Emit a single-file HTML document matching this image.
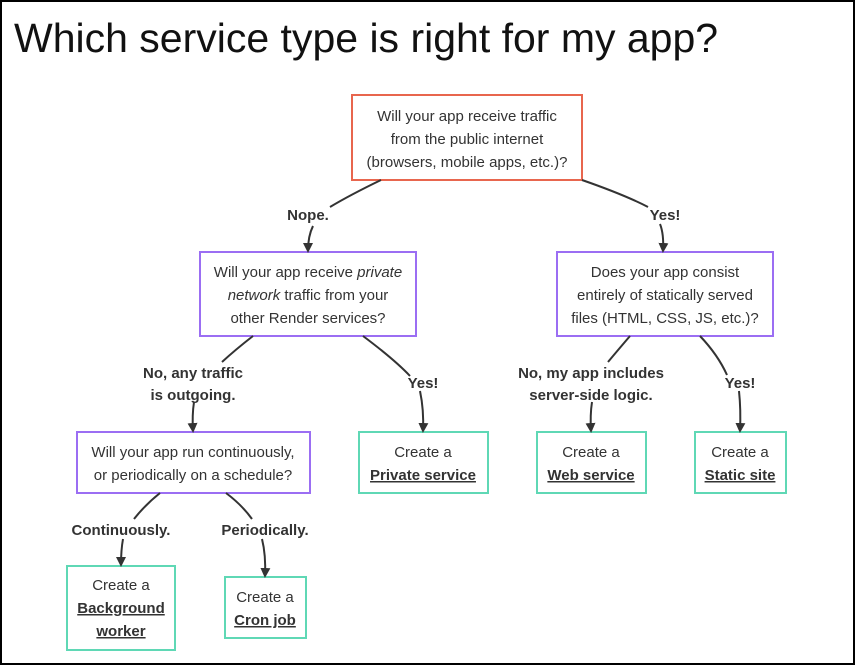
<!DOCTYPE html>
<html><head><meta charset="utf-8"><style>
html,body{margin:0;padding:0;background:#fff;}
body{width:855px;height:665px;overflow:hidden;}
svg{display:block;font-family:"Liberation Sans",sans-serif;}
.t{font-size:15px;fill:#333;text-anchor:middle;}
.b{font-size:15px;fill:#333;font-weight:bold;text-anchor:middle;}
.u{text-decoration:underline;}
.l{fill:none;stroke:#333;stroke-width:2;}
</style></head><body>
<svg width="855" height="665" viewBox="0 0 855 665">
<defs><marker id="a" markerWidth="10" markerHeight="10" refX="8" refY="5" orient="auto" markerUnits="userSpaceOnUse"><path d="M0,0 L10,5 L0,10 z" fill="#333"/></marker></defs>
<rect x="1" y="1" width="853" height="663" fill="#fff" stroke="#000" stroke-width="2"/>
<text x="14" y="52" font-size="41" fill="#111" font-weight="300">Which service type is right for my app?</text>

<rect x="352" y="95" width="230" height="85" fill="#fff" stroke="#e8664e" stroke-width="2"/>
<text class="t" x="467" y="121">Will your app receive traffic</text>
<text class="t" x="467" y="144">from the public internet</text>
<text class="t" x="467" y="167">(browsers, mobile apps, etc.)?</text>

<rect x="200" y="252" width="216" height="84" fill="#fff" stroke="#9b6ef3" stroke-width="2"/>
<text class="t" x="308" y="277">Will your app receive <tspan font-style="italic">private</tspan></text>
<text class="t" x="308" y="300"><tspan font-style="italic">network</tspan> traffic from your</text>
<text class="t" x="308" y="323">other Render services?</text>

<rect x="557" y="252" width="216" height="84" fill="#fff" stroke="#9b6ef3" stroke-width="2"/>
<text class="t" x="665" y="277">Does your app consist</text>
<text class="t" x="665" y="300">entirely of statically served</text>
<text class="t" x="665" y="323">files (HTML, CSS, JS, etc.)?</text>

<rect x="77" y="432" width="233" height="61" fill="#fff" stroke="#9b6ef3" stroke-width="2"/>
<text class="t" x="193" y="457">Will your app run continuously,</text>
<text class="t" x="193" y="480">or periodically on a schedule?</text>

<g fill="#fff" stroke="#5fd8b5" stroke-width="2">
<rect x="359" y="432" width="129" height="61"/>
<rect x="537" y="432" width="109" height="61"/>
<rect x="695" y="432" width="91" height="61"/>
<rect x="67" y="566" width="108" height="84"/>
<rect x="225" y="577" width="81" height="61"/>
</g>
<text class="t" x="423" y="457">Create a</text>
<text class="b u" x="423" y="480">Private service</text>
<text class="t" x="591" y="457">Create a</text>
<text class="b u" x="591" y="480">Web service</text>
<text class="t" x="740" y="457">Create a</text>
<text class="b u" x="740" y="480">Static site</text>
<text class="t" x="121" y="590">Create a</text>
<text class="b u" x="121" y="613">Background</text>
<text class="b u" x="121" y="636">worker</text>
<text class="t" x="265" y="602">Create a</text>
<text class="b u" x="265" y="625">Cron job</text>

<path class="l" d="M381,180 Q350,195 330,207"/>
<path class="l" d="M313,226 Q308,236 308,251" marker-end="url(#a)"/>
<text class="b" x="308" y="220">Nope.</text>
<path class="l" d="M582,180 Q625,195 648,207"/>
<path class="l" d="M660,224 Q664,234 663,251" marker-end="url(#a)"/>
<text class="b" x="665" y="220">Yes!</text>

<path class="l" d="M253,336 Q235,350 222,362"/>
<path class="l" d="M194,402 Q192,415 193,431" marker-end="url(#a)"/>
<text class="b" x="193" y="378">No, any traffic</text>
<text class="b" x="193" y="400">is outgoing.</text>
<path class="l" d="M363,336 Q395,360 410,376"/>
<path class="l" d="M420,391 Q424,410 423,431" marker-end="url(#a)"/>
<text class="b" x="423" y="388">Yes!</text>

<path class="l" d="M630,336 Q618,350 608,362"/>
<path class="l" d="M592,402 Q590,415 591,431" marker-end="url(#a)"/>
<text class="b" x="591" y="378">No, my app includes</text>
<text class="b" x="591" y="400">server-side logic.</text>
<path class="l" d="M700,336 Q718,355 727,375"/>
<path class="l" d="M739,391 Q741,410 740,431" marker-end="url(#a)"/>
<text class="b" x="740" y="388">Yes!</text>

<path class="l" d="M160,493 Q145,505 134,519"/>
<path class="l" d="M123,539 Q121,550 121,565" marker-end="url(#a)"/>
<text class="b" x="121" y="535">Continuously.</text>
<path class="l" d="M226,493 Q242,505 252,519"/>
<path class="l" d="M262,539 Q266,555 265,576" marker-end="url(#a)"/>
<text class="b" x="265" y="535">Periodically.</text>
</svg>
</body></html>
